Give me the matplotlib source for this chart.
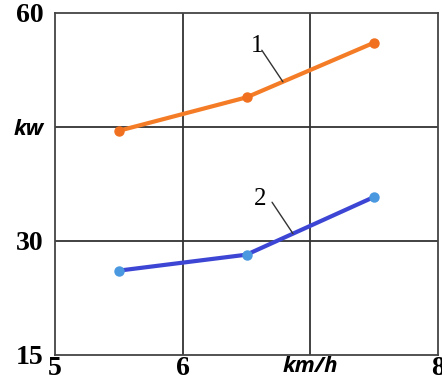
import matplotlib
matplotlib.use("Agg")
import matplotlib.pyplot as plt

# curve values (speed km/h -> power kw)
speed = [5.5, 6.5, 7.5]
power_1 = [44.5, 48.9, 56.1]
power_2 = [26.1, 28.2, 35.8]

x_ticks = [5, 6, 7, 8]
x_labels = ["5", "6", "km/h", "8"]
y_ticks = [15, 30, 45, 60]
y_labels = ["15", "30", "kw", "60"]

fig = plt.figure(figsize=(4.42, 3.82), dpi=100)
ax = fig.add_axes([0.1244, 0.0707, 0.8666, 0.8953])

ax.set_xlim(5, 8)
ax.set_ylim(15, 60)

# grid at the inner ticks
for gx in [6, 7]:
    ax.axvline(gx, color="#333333", lw=1.3, zorder=1)
for gy in [30, 45]:
    ax.axhline(gy, color="#333333", lw=1.3, zorder=1)

for s in ax.spines.values():
    s.set_color("#444444")
    s.set_linewidth(1.3)

ax.plot(speed, power_1, color="#f57c26", lw=3, marker="o", ms=6.5,
        mfc="#f07020", mec="#f07020", solid_capstyle="round", zorder=3)
ax.plot(speed, power_2, color="#3d46d4", lw=3, marker="o", ms=6.5,
        mfc="#4a98e0", mec="#4a98e0", solid_capstyle="round", zorder=3)

# leader labels
ax.text(6.58, 55.6, "1", fontsize=18, family="Liberation Serif",
        ha="center", va="center")
ax.annotate("", xy=(6.785, 50.95), xytext=(6.62, 55.1),
            arrowprops=dict(arrowstyle="-", color="#333333", lw=1,
                            shrinkA=0, shrinkB=0))
ax.text(6.61, 35.5, "2", fontsize=18, family="Liberation Serif",
        ha="center", va="center")
ax.annotate("", xy=(6.864, 30.97), xytext=(6.70, 35.1),
            arrowprops=dict(arrowstyle="-", color="#333333", lw=1,
                            shrinkA=0, shrinkB=0))

ax.set_xticks(x_ticks)
ax.set_xticklabels(x_labels)
ax.set_yticks(y_ticks)
ax.set_yticklabels(y_labels)
ax.tick_params(axis="y", length=0, pad=8)
ax.tick_params(axis="x", length=0, pad=1)

for lab in ax.get_xticklabels() + ax.get_yticklabels():
    if lab.get_text().isdigit():
        lab.set_fontfamily("Liberation Serif")
        lab.set_fontweight("bold")
        lab.set_fontsize(20)
    else:
        lab.set_fontfamily("Open Sans")
        lab.set_fontweight("bold")
        lab.set_fontstyle("italic")
        lab.set_fontsize(16)

fig.savefig("out.png", dpi=100)
